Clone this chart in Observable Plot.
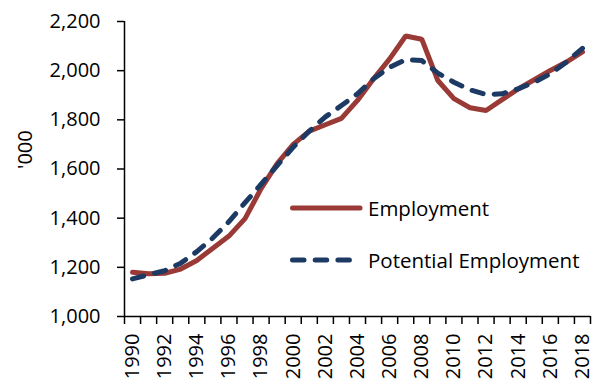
<!DOCTYPE html>
<html>
<head>
<meta charset="utf-8">
<script src="https://cdn.jsdelivr.net/npm/d3@7"></script>
<script src="https://cdn.jsdelivr.net/npm/@observablehq/plot@0.6"></script>
<style>
  html, body { margin: 0; padding: 0; background: #fff; }
  #chart { position: relative; width: 595px; height: 381px; font-family: "Open Sans", sans-serif; }
  #chart svg { display: block; }
  .legend { position: absolute; left: 288px; font-size: 20.5px; color: #000; display: flex; align-items: center; white-space: nowrap; }
  .legend svg { margin-right: 4px; }
</style>
</head>
<body>
<div id="chart"></div>
<script>
// Annual employment vs potential employment, thousands
const years = d3.range(1990, 2019);
const employment = [
  1180, 1174, 1176, 1193, 1228, 1278, 1327, 1398, 1520, 1622,
  1700, 1754, 1780, 1806, 1879, 1967, 2048, 2141, 2128, 1960,
  1886, 1849, 1838, 1882, 1926, 1963, 2001, 2035, 2076
];
const potential = [
  1153, 1170, 1186, 1217, 1264, 1320, 1386, 1463, 1538, 1614,
  1689, 1754, 1812, 1858, 1906, 1967, 2014, 2045, 2041, 1990,
  1953, 1922, 1903, 1906, 1926, 1953, 1987, 2035, 2091
];
const yTicks = [1000, 1200, 1400, 1600, 1800, 2000, 2200];
const yearLabels = years.filter(y => y % 2 === 0);
const categoryEdges = d3.range(1989.5, 2019, 1);

const empColor = "#9A3A36";
const potColor = "#1C3A63";

const rows = years.map((year, i) => ({year, employment: employment[i], potential: potential[i]}));

const chart = Plot.plot({
  width: 595,
  height: 381,
  marginLeft: 124,
  marginRight: 5,
  marginTop: 21,
  marginBottom: 65,
  style: {fontFamily: "Open Sans, sans-serif", fontSize: "20px", color: "#000", background: "#fff"},
  x: {domain: [1989.5, 2018.5]},
  y: {domain: [1000, 2200]},
  marks: [
    Plot.axisY({ticks: yTicks, tickSize: 7, tickPadding: 17, tickFormat: d3.format(","), label: null, strokeWidth: 1.5}),
    Plot.axisX({ticks: categoryEdges, tickSize: 8, tickFormat: () => "", label: null, strokeWidth: 1.5}),
    Plot.axisX({ticks: yearLabels, tickSize: 0, tickPadding: 17, tickRotate: -90, tickFormat: d => String(d), label: null}),
    Plot.ruleX([1989.5], {stroke: "#000", strokeWidth: 1.5}),
    Plot.ruleY([1000], {stroke: "#000", strokeWidth: 1.5}),
    Plot.text(["'000"], {frameAnchor: "left", dx: -99, rotate: -90, fontSize: 20}),
    Plot.line(rows, {x: "year", y: "employment", stroke: empColor, strokeWidth: 5, strokeLinejoin: "miter"}),
    Plot.line(rows, {x: "year", y: "potential", stroke: potColor, strokeWidth: 5, strokeDasharray: "11.5,11.2", strokeLinecap: "round"})
  ]
});

const root = document.getElementById("chart");
root.appendChild(chart);

// Legend inside the plot area
const legendItems = [
  {label: "Employment", color: empColor, dash: null, top: 194},
  {label: "Potential Employment", color: potColor, dash: "11.5,11.2", top: 246}
];
for (const item of legendItems) {
  const div = document.createElement("div");
  div.className = "legend";
  div.style.top = item.top + "px";
  div.innerHTML =
    `<svg width="76" height="28"><line x1="4.5" x2="${item.dash ? 64 : 72}" y1="14" y2="14" stroke="${item.color}" stroke-width="5" stroke-linecap="round" ${item.dash ? `stroke-dasharray="${item.dash}"` : ""}/></svg><span>${item.label}</span>`;
  root.appendChild(div);
}
</script>
</body>
</html>
